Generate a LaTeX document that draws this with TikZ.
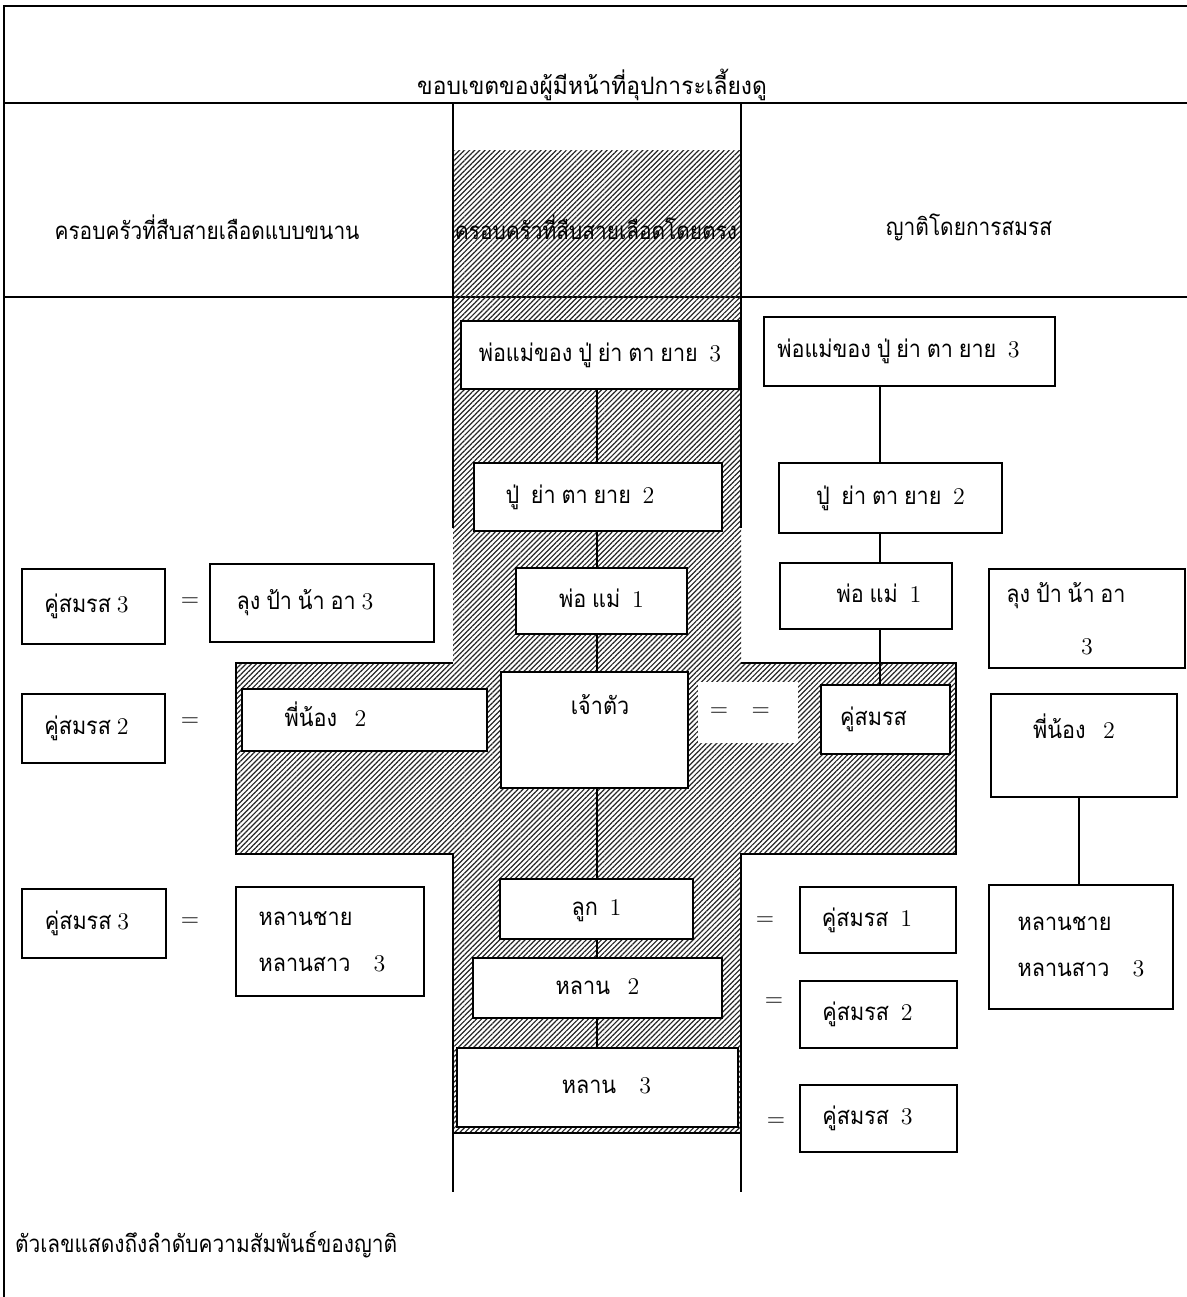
\documentclass[tikz,border=0pt]{standalone}
\usepackage{fontspec}
\newfontfamily\thaifont[Script=Thai, FakeStretch=0.9, WordSpace=0.8]{Loma}
\newfontfamily\thaihead[Script=Thai, FakeStretch=0.87]{Loma}
\newfontfamily\thaititle[Script=Thai, FakeStretch=0.95]{Loma}
\usepackage{tikz}
\usetikzlibrary{patterns.meta, positioning}
\newcommand{\dg}[1]{{\rmfamily #1}}

\tikzset{
  base/.style={draw, fill=white, line width=0.8pt, inner sep=0pt, font=\thaifont\fontsize{12}{14}\selectfont},
  kin/.style={base, text height=9pt, text depth=3pt},
  kin2/.style={base, align=left},
  eqs/.style={font=\fontsize{12}{14}\selectfont},
  head/.style={font=\thaihead\fontsize{12}{14}\selectfont},
  link/.style={line width=0.6pt},
  edge/.style={line width=1pt},
  hatch/.style={pattern={Lines[angle=45, distance=1.8pt, line width=0.6pt]}, pattern color=black!85},
}

\begin{document}
\begin{tikzpicture}[x=0.5pt, y=-0.5pt]
	\useasboundingbox (0,0) rectangle (1187,1297);
	% frame and header rows
	\draw [line width=1.2pt] (4,1297) -- (4,6) -- (1187,6);
	\draw [line width=1.2pt] (4,103) -- (1187,103);
	\draw [line width=1.2pt] (4,297) -- (1187,297);
	% hatched cross of the direct line
	\fill [hatch] (453,150) -- (741,150) -- (741,663) -- (956,663) -- (956,854) -- (741,854) -- (741,1133) -- (453,1133) -- (453,854) -- (236,854) -- (236,663) -- (453,663) -- cycle;
	\draw [edge] (453,103) -- (453,528);
	\draw [edge] (741,103) -- (741,528);
	\draw [edge] (453,663) -- (236,663) -- (236,854) -- (453,854) -- (453,1192);
	\draw [edge] (741,663) -- (956,663) -- (956,854) -- (741,854) -- (741,1192);
	\draw [edge] (453,1133) -- (741,1133);
	\coordinate (spine) at (597,0);
	\coordinate (rspine) at (880,0);
	\coordinate (sspine) at (1079,0);

	\node [font=\thaititle\fontsize{12}{14}\selectfont] (title) at (592,85) {ขอบเขตของผู้มีหน้าที่อุปการะเลี้ยงดู};
	\node [head] (hpar) at (207,227) {ครอบครัวที่สืบสายเลือดแบบขนาน};
	\node [head] (hdir) at (596,227) {ครอบครัวที่สืบสายเลือดโดยตรง};
	\node [head] (hmar) at (969,227) {ญาติโดยการสมรส};
	\node [head, anchor=west] (note) at (8,1245) {ตัวเลขแสดงถึงลำดับความสัมพันธ์ของญาติ};

	% direct line
	\node [kin, minimum width=139pt, minimum height=34pt] (c3) at (600,355) {พ่อแม่ของ ปู่ ย่า ตา ยาย\ \ \dg{3}};
	\node [kin, minimum width=124pt, minimum height=34pt] (c2) at (598,497) {ปู่\ \ ย่า ตา ยาย\ \ \dg{2}\hspace*{18pt}};
	\node [kin, minimum width=85.5pt, minimum height=33pt] (c1) at (601.5,601) {พ่อ แม่\ \ \dg{1}};
	\node [base, text height=21pt, text depth=37pt, minimum width=93.5pt] (self) at (594.5,730) {\hspace*{5.5pt}เจ้าตัว};
	\node [fill=white, eqs, minimum width=50pt, minimum height=30.5pt] (twin) at (748,712.5) {=\ \ \ =\hspace*{8pt}};
	\node [kin, minimum width=96.5pt, minimum height=30pt] (ch1) at (596.5,909) {ลูก\ \ \dg{1}};
	\node [kin, minimum width=124.5pt, minimum height=30pt] (gc2) at (597.5,988) {หลาน\ \ \ \dg{2}};
	\node [kin, minimum width=140.5pt, minimum height=39.5pt] (gc3) at (597.5,1087.5) {\hspace*{9pt}หลาน\ \ \ \ \dg{3}};

	% relatives by marriage
	\node [kin, minimum width=145.5pt, minimum height=34.5pt] (r3) at (909.5,351.5) {พ่อแม่ของ ปู่ ย่า ตา ยาย\ \ \dg{3}\hspace*{11pt}};
	\node [kin, minimum width=111.5pt, minimum height=35pt] (r2) at (890.5,498) {ปู่\ \ ย่า ตา ยาย\ \ \dg{2}};
	\node [kin, minimum width=86pt, minimum height=33pt] (r1) at (866,596) {\hspace*{13pt}พ่อ แม่\ \ \dg{1}};
	\node [kin, minimum width=64.5pt, minimum height=34.5pt] (spouse) at (885.5,719.5) {คู่สมรส\hspace*{12pt}};
	\node [kin2, align=center, minimum width=98pt, minimum height=49.5pt] (runcle) at (1087,618.5) {ลุง ป้า น้า อา\hspace*{21pt}\\[12pt]\dg{3}};
	\node [kin, text depth=16.5pt, minimum width=93pt, minimum height=51.5pt] (rsib) at (1084,745.5) {พี่น้อง\ \ \ \dg{2}\hspace*{10pt}};
	\node [kin2, minimum width=92pt, minimum height=62pt] (rgc) at (1081,947) {หลานชาย\\[9pt]หลานสาว\ \ \ \ \dg{3}};
	\node [eqs] (e4) at (765,921) {=};
	\node [kin, minimum width=78pt, minimum height=33pt] (rsp1) at (878,920) {คู่สมรส\ \ \dg{1}\hspace*{11pt}};
	\node [eqs] (e5) at (774,1002) {=};
	\node [kin, minimum width=78.5pt, minimum height=33.5pt] (rsp2) at (878.5,1014.5) {คู่สมรส\ \ \dg{2}\hspace*{11pt}};
	\node [eqs] (e6) at (776,1122) {=};
	\node [kin, minimum width=78.5pt, minimum height=33.5pt] (rsp3) at (878.5,1118.5) {คู่สมรส\ \ \dg{3}\hspace*{11pt}};

	% parallel line
	\node [kin, minimum width=71.5pt, minimum height=37.5pt] (lsp3) at (93.5,606.5) {คู่สมรส \dg{3}\hspace*{7pt}};
	\node [eqs] (e1) at (190,602) {=};
	\node [kin, minimum width=112pt, minimum height=39pt] (luncle) at (322,603) {ลุง ป้า น้า อา\ \dg{3}\hspace*{17pt}};
	\node [kin, minimum width=71.5pt, minimum height=34.5pt] (lsp2) at (93.5,728.5) {คู่สมรส \dg{2}\hspace*{7pt}};
	\node [eqs] (e2) at (190,722) {=};
	\node [kin, minimum width=122.5pt, minimum height=31pt] (lsib) at (364.5,720) {พี่น้อง\ \ \ \dg{2}\hspace*{39pt}};
	\node [kin, minimum width=72pt, minimum height=34.5pt] (lsp3b) at (94,923.5) {คู่สมรส \dg{3}\hspace*{7pt}};
	\node [eqs] (e3) at (190,922) {=};
	\node [kin2, minimum width=94pt, minimum height=54.5pt] (lgc) at (330,941.5) {หลานชาย\\[9pt]หลานสาว\ \ \ \ \dg{3}\hspace*{8pt}};

	\draw [link] (c3.south -| spine) -- (c2.north -| spine);
	\draw [link] (c2.south -| spine) -- (c1.north -| spine);
	\draw [link] (c1.south -| spine) -- (self.north -| spine);
	\draw [link] (self.south -| spine) -- (ch1.north -| spine);
	\draw [link] (ch1.south -| spine) -- (gc2.north -| spine);
	\draw [link] (gc2.south -| spine) -- (gc3.north -| spine);
	\draw [link] (r3.south -| rspine) -- (r2.north -| rspine);
	\draw [link] (r2.south -| rspine) -- (r1.north -| rspine);
	\draw [link] (r1.south -| rspine) -- (spouse.north -| rspine);
	\draw [link] (rsib.south -| sspine) -- (rgc.north -| sspine);
\end{tikzpicture}
\end{document}
